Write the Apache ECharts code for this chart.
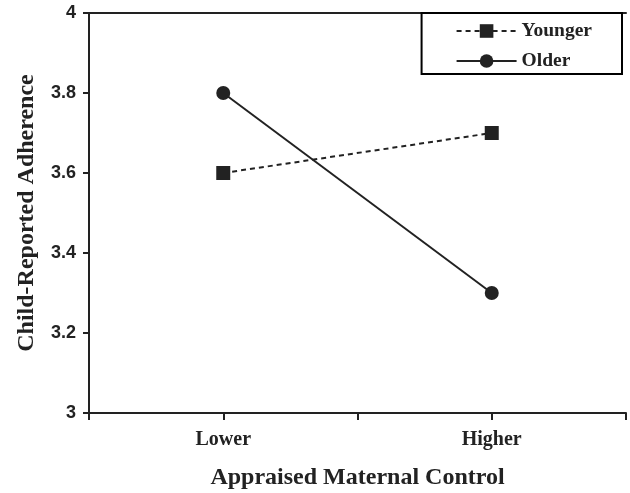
<!DOCTYPE html>
<html><head><meta charset="utf-8">
<script src="https://cdn.jsdelivr.net/npm/echarts@6/dist/echarts.min.js"></script>
<style>html,body{margin:0;padding:0;background:#fff}#c{width:630px;height:493px}</style>
</head><body><div id="c"></div>
<script>
var categories = ['Lower', 'Higher'];
var younger = [3.6, 3.7];
var older = [3.8, 3.3];
var yTicks = [3, 3.2, 3.4, 3.6, 3.8, 4];

function pts(vals){ return vals.map(function(v,i){ return [2*i+1, v]; }); }

var serif = '"Liberation Serif","Times New Roman",serif';
var sans = '"Liberation Sans",Arial,sans-serif';
var chart = echarts.init(document.getElementById('c'), null, {renderer:'canvas'});
chart.setOption({
  animation: false,
  backgroundColor: '#fff',
  grid: {left: 89, right: 4, top: 13, bottom: 80, outerBoundsMode: 'none', containLabel: false},
  legend: {
    orient: 'vertical', right: 8, top: 13,
    borderColor: '#000', borderWidth: 2, backgroundColor: '#fff',
    padding: [8, 30, 3, 34], itemWidth: 60, itemHeight: 17, itemGap: 10,
    textStyle: {fontFamily: serif, fontWeight: 'bold', fontSize: 19.5, color: '#222'},
    data: ['Younger', 'Older']
  },
  xAxis: [{
    type: 'value', min: 0, max: 2*categories.length, interval: 1,
    name: 'Appraised Maternal Control', nameLocation: 'middle', nameGap: 53,
    nameTextStyle: {fontFamily: serif, fontWeight: 'bold', fontSize: 24, color: '#222'},
    axisLine: {show: true, lineStyle: {color: '#222', width: 2}},
    axisTick: {show: true, length: 7, lineStyle: {color: '#222', width: 2}},
    axisLabel: {margin: 17, fontFamily: serif, fontWeight: 'bold', fontSize: 20, color: '#222',
      formatter: function(v){ return (v % 2 === 1) ? categories[(v-1)/2] : ''; }},
    splitLine: {show: false}
  }, {
    type: 'value', min: 0, max: 2*categories.length, position: 'top',
    axisLine: {show: true, lineStyle: {color: '#222', width: 2}},
    axisTick: {show: false}, axisLabel: {show: false}, splitLine: {show: false}
  }],
  yAxis: [{
    type: 'value', min: yTicks[0], max: yTicks[yTicks.length-1], interval: 0.2,
    name: 'Child-Reported Adherence', nameLocation: 'middle', nameGap: 50,
    nameTextStyle: {fontFamily: serif, fontWeight: 'bold', fontSize: 24, color: '#222'},
    axisLine: {show: true, lineStyle: {color: '#222', width: 2}},
    axisTick: {show: true, length: 6, lineStyle: {color: '#222', width: 2}},
    axisLabel: {margin: 13, fontFamily: sans, fontWeight: 'bold', fontSize: 18, color: '#222'},
    splitLine: {show: false}
  }, {
    type: 'value', min: yTicks[0], max: yTicks[yTicks.length-1], position: 'right',
    axisLine: {show: true, lineStyle: {color: '#222', width: 2}},
    axisTick: {show: false}, axisLabel: {show: false}, splitLine: {show: false}
  }],
  series: [{
    name: 'Younger', type: 'line', data: pts(younger),
    symbol: 'rect', symbolSize: 14,
    itemStyle: {color: '#222'},
    lineStyle: {color: '#222', width: 2, type: [5, 4]}
  }, {
    name: 'Older', type: 'line', data: pts(older),
    symbol: 'circle', symbolSize: 14,
    itemStyle: {color: '#222'},
    lineStyle: {color: '#222', width: 2, type: 'solid'}
  }]
});
</script></body></html>
